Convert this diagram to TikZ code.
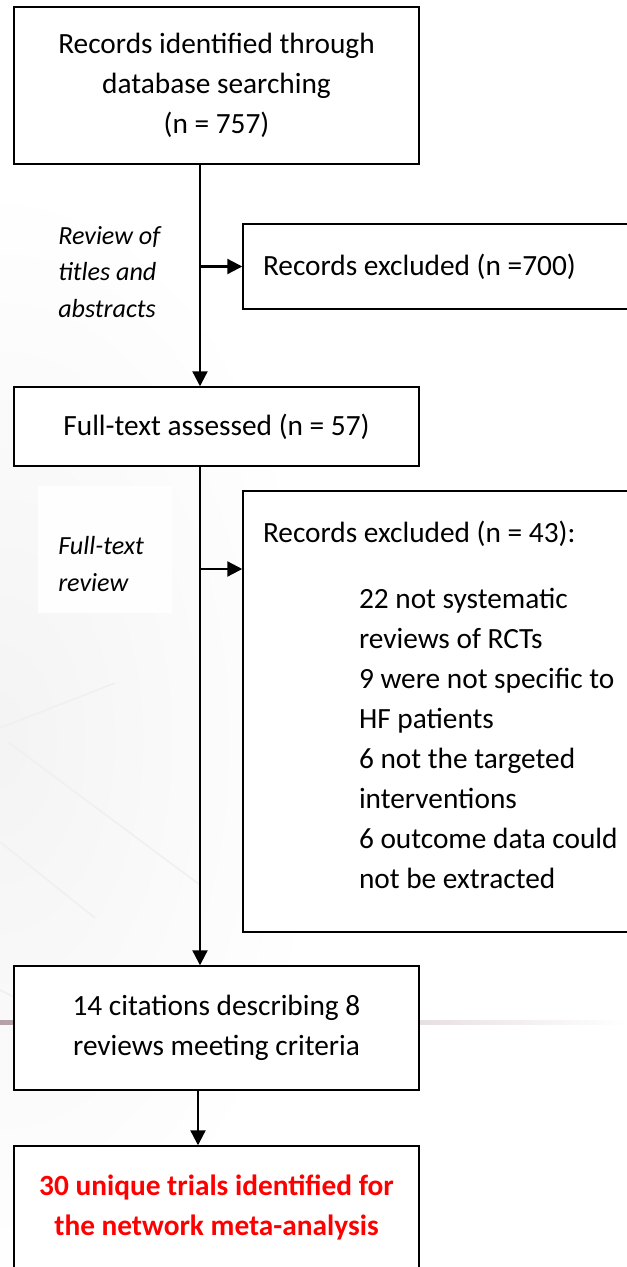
\documentclass[tikz,border=0pt]{standalone}
\usepackage{fontspec}
\setmainfont{Carlito}
\usetikzlibrary{arrows.meta}
\newcommand\mainsz{\fontsize{22pt}{30pt}\selectfont}
\newcommand\labsz{\fontsize{19.6pt}{27.4pt}\selectfont}
\newcommand\ind{\hspace*{72pt}}
\definecolor{bandmauve}{RGB}{182,160,168}
\definecolor{hitred}{RGB}{255,0,0}
\tikzset{
  box/.style={draw=black, line width=1.1pt, fill=white, inner sep=0pt,
    align=center, font=\mainsz},
  sidebox/.style={draw=black, line width=1.1pt, fill=white, inner xsep=15pt,
    inner ysep=0pt, align=flush left, font=\mainsz, text width=312.75pt},
  flow/.style={line width=1.7pt, -{Triangle[length=11.25pt,width=11.25pt]}},
  steplabel/.style={font=\labsz\itshape, align=left, inner sep=0pt, anchor=west},
  faint/.style={draw=gray!12, line width=1.2pt}
}
\begin{document}
\begin{tikzpicture}[x=0.75pt, y=-0.75pt]
  \useasboundingbox (0,0) rectangle (627,1267);
  \clip (0,0) rectangle (627,1267);

  % slide background: soft grey wash on the left, faint lines, mauve rule
  \fill[white] (0,0) rectangle (627,1267);
  \shade[inner color=gray!9, outer color=white] (0,740) ellipse (330 and 560);
  \draw[faint] (0,728) -- (115,683);
  \draw[faint] (8,742) -- (200,885);
  \draw[faint] (0,842) -- (95,918);
  \draw[faint] (0,990) -- (60,1020);
  \fill[white!70!gray!2] (38,486) rectangle (172,613);
  \shade[left color=bandmauve, right color=white] (0,1020) rectangle (627,1024);

  % trunk positions
  \coordinate (trunk) at (200,0);
  \coordinate (trunkb) at (198,0);
  \coordinate (fork2) at (200,569);

  % main column
  \node[box, minimum width=303.75pt, minimum height=117.75pt] (ident) at (216.5,85.5)
    {Records identified through\\database searching\\(n = 757)};
  \node[box, minimum width=303.75pt, minimum height=59.25pt] (full) at (216.5,426.5)
    {Full-text assessed (n = 57)};
  \node[box, minimum width=303.75pt, minimum height=93pt] (cites) at (216.5,1028)
    {14 citations describing 8\\reviews meeting criteria};
  \node[box, minimum width=303.75pt, minimum height=92.25pt, text=hitred,
    font=\mainsz\bfseries] (trials) at (216.5,1207.5)
    {30 unique trials identified for\\the network meta-analysis};

  % exclusion boxes (right side runs past the page edge)
  \node[sidebox, minimum height=63.75pt] (excl1) at (471.5,266.5)
    {Records excluded (n =700)};
  \node[sidebox, minimum height=330.75pt] (excl2) at (471.5,711.5)
    {Records excluded (n = 43):\\[19.5pt]
     \ind 22 not systematic\\
     \ind reviews of RCTs\\
     \ind 9 were not specific to\\
     \ind HF patients\\
     \ind 6 not the targeted\\
     \ind interventions\\
     \ind 6 outcome data could\\
     \ind not be extracted\\[-19.5pt]\mbox{}};

  % step labels
  \node[steplabel] (lab1) at (58,272) {Review of\\titles and\\abstracts};
  \node[steplabel] (lab2) at (58,564) {Full-text\\review};

  % connectors
  \draw[flow] (ident.south -| trunk) -- (full.north -| trunk);
  \draw[flow] (excl1.west -| trunk) -- (excl1.west);
  \draw[flow] (full.south -| trunk) -- (cites.north -| trunk);
  \draw[flow] (fork2) -- (fork2 -| excl2.west);
  \draw[flow] (cites.south -| trunkb) -- (trials.north -| trunkb);
\end{tikzpicture}
\end{document}
